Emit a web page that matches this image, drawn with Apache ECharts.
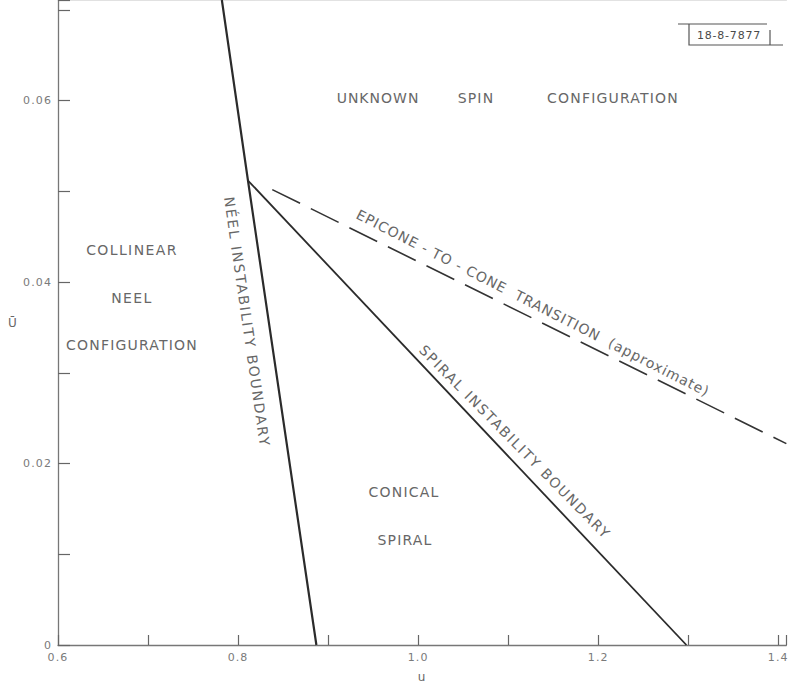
<!DOCTYPE html>
<html>
<head>
<meta charset="utf-8">
<script src="https://cdn.jsdelivr.net/npm/echarts@6/dist/echarts.min.js"></script>
<style>
html,body{margin:0;padding:0;background:#fff;}
#chart{width:790px;height:688px;}
</style>
</head>
<body>
<div id="chart"></div>
<script>
// ---- data ----
const xTicks = [0.6, 0.8, 1.0, 1.2, 1.4];
const yTicks = [0, 0.02, 0.04, 0.06];
const neelU = [0.887, 0.811, 0.782];
const neelV = [0, 0.0512, 0.0711];
const spiralU = [0.811, 1.298];
const spiralV = [0.0512, 0];
const epiconeU = [0.838, 1.409];
const epiconeV = [0.0502, 0.0222];

const FONT = 'DejaVu Sans';
const TXT = '#676767';

function pairs(us, vs) { return us.map((u, i) => [u, vs[i]]); }
function near(v, list) { return list.some(t => Math.abs(t - v) < 1e-6); }

const chart = echarts.init(document.getElementById('chart'), null, {renderer: 'svg'});

function txt(text, x, y, size, rot, color) {
  return {
    type: 'text', x: x, y: y, rotation: rot || 0, silent: true,
    style: {text: text, fill: color || TXT, fontFamily: FONT, fontSize: size, align: 'center', verticalAlign: 'middle'}
  };
}
const deg = Math.PI / 180;

const spacing = {
  'UNKNOWN': 1.0, 'SPIN': 1.2, 'CONFIGURATION': 1.2, 'COLLINEAR': 1.4, 'NEEL': 1.4,
  'CONICAL': 1.2, 'SPIRAL': 1.2,
  'NÉEL INSTABILITY BOUNDARY': 1.85,
  'SPIRAL INSTABILITY BOUNDARY': 1.75,
  'EPICONE - TO - CONE  TRANSITION  (approximate)': 0.95,
  '18-8-7877': 0.8
};

chart.setOption({
  animation: false,
  backgroundColor: '#fff',
  grid: {left: 58, right: 0, top: 0, bottom: 40, containLabel: false},
  xAxis: [{
    type: 'value', min: 0.6, max: 1.409, interval: 0.1,
    name: 'u', nameLocation: 'middle', nameGap: 26,
    nameTextStyle: {color: TXT, fontFamily: FONT, fontSize: 12},
    axisLine: {show: true, onZero: false, lineStyle: {color: '#777', width: 1.3}},
    axisTick: {show: true, inside: true, length: 10, lineStyle: {color: '#666', width: 1.2}},
    axisLabel: {
      color: '#7a7a7a', fontFamily: FONT, fontSize: 11, margin: 7,
      formatter: v => near(v, xTicks) ? v.toFixed(1) : ''
    },
    splitLine: {show: false}
  }, {
    type: 'value', position: 'top', min: 0.6, max: 1.409,
    axisLine: {show: true, onZero: false, lineStyle: {color: '#d8d8d8', width: 1.5}},
    axisTick: {show: false}, axisLabel: {show: false}, splitLine: {show: false}
  }],
  yAxis: {
    type: 'value', min: 0, max: 0.0711, interval: 0.01,
    name: 'Ū', nameLocation: 'middle', nameGap: 40, nameRotate: 0,
    nameTextStyle: {color: TXT, fontFamily: FONT, fontSize: 12},
    axisLine: {show: true, onZero: false, lineStyle: {color: '#777', width: 1.3}},
    axisTick: {show: true, inside: true, length: 12, lineStyle: {color: '#666', width: 1.2}},
    axisLabel: {
      color: '#7a7a7a', fontFamily: FONT, fontSize: 11, margin: 6,
      formatter: v => near(v, yTicks) ? (v === 0 ? '0' : v.toFixed(2)) : ''
    },
    splitLine: {show: false}
  },
  series: [
    {type: 'line', name: 'Néel instability boundary', data: pairs(neelU, neelV),
     symbol: 'none', lineStyle: {color: '#2b2b2b', width: 2.2}},
    {type: 'line', name: 'Spiral instability boundary', data: pairs(spiralU, spiralV),
     symbol: 'none', lineStyle: {color: '#2b2b2b', width: 1.8}},
    {type: 'line', name: 'Epicone-to-cone transition', data: pairs(epiconeU, epiconeV),
     symbol: 'none', lineStyle: {color: '#333', width: 1.6, type: [31, 12]}}
  ],
  graphic: [
    txt('UNKNOWN', 378, 98, 14),
    txt('SPIN', 476, 98, 14),
    txt('CONFIGURATION', 613, 98, 14),
    txt('COLLINEAR', 132, 250, 14),
    txt('NEEL', 132, 298, 14),
    txt('CONFIGURATION', 132, 345, 14),
    txt('CONICAL', 404, 492, 14),
    txt('SPIRAL', 405, 540, 14),
    txt('NÉEL INSTABILITY BOUNDARY', 247, 322, 14, -81.8 * deg),
    txt('EPICONE - TO - CONE  TRANSITION  (approximate)', 533, 303, 14, -27 * deg),
    txt('SPIRAL INSTABILITY BOUNDARY', 515, 442, 14, -45.4 * deg),
    txt('18-8-7877', 729, 35, 11, 0, '#4a4a4a'),
    {type: 'polyline', silent: true, shape: {points: [[678, 24], [767, 24]]}, style: {stroke: '#555', lineWidth: 1.2, fill: null}},
    {type: 'polyline', silent: true, shape: {points: [[689, 24], [689, 45], [783, 45]]}, style: {stroke: '#555', lineWidth: 1.2, fill: null}},
    {type: 'polyline', silent: true, shape: {points: [[770, 30], [770, 45]]}, style: {stroke: '#555', lineWidth: 1.2, fill: null}}
  ]
});

function applySpacing() {
  document.querySelectorAll('#chart svg text').forEach(el => {
    const t = el.textContent;
    let s = spacing[t];
    if (s === undefined) s = 1.1;
    el.setAttribute('letter-spacing', s + 'px');
  });
}
applySpacing();
chart.on('finished', applySpacing);
</script>
</body>
</html>
